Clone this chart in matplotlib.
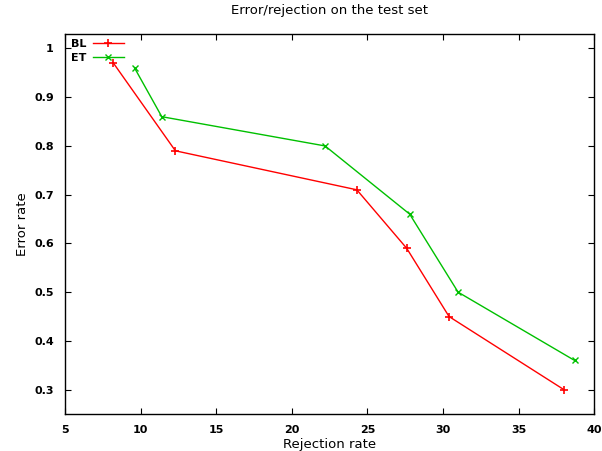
import matplotlib
matplotlib.use("Agg")
import matplotlib.pyplot as plt

# Daten
bl_x = [8.2, 12.3, 24.3, 27.6, 30.4, 38.0]
bl_y = [0.97, 0.79, 0.71, 0.59, 0.45, 0.30]
et_x = [9.6, 11.4, 22.2, 27.8, 31.0, 38.7]
et_y = [0.96, 0.86, 0.80, 0.66, 0.50, 0.36]

xticks = [5, 10, 15, 20, 25, 30, 35, 40]
yticks = [0.3, 0.4, 0.5, 0.6, 0.7, 0.8, 0.9, 1.0]
ytick_labels = ["0.3", "0.4", "0.5", "0.6", "0.7", "0.8", "0.9", "1"]

fig = plt.figure(figsize=(6.02, 4.51), dpi=100)
ax = fig.add_axes([0.108, 0.082, 0.879, 0.843])

ax.plot(bl_x, bl_y, color="#ff0000", lw=1, marker="+", ms=5.5, mew=1.2, label="BL")
ax.plot(et_x, et_y, color="#00c000", lw=1, marker="x", ms=5, mew=1, label="ET")

ax.set_xlim(5, 40)
ax.set_ylim(0.25, 1.03)
ax.set_xticks(xticks)
ax.set_yticks(yticks)
ax.set_yticklabels(ytick_labels)
ax.tick_params(direction="in", top=True, right=True, length=4, labelsize=8, pad=8)
for lab in ax.get_xticklabels() + ax.get_yticklabels():
    lab.set_fontweight("bold")
for s in ax.spines.values():
    s.set_linewidth(1)

ax.set_title("Error/rejection on the test set", fontsize=9.5, pad=14)
ax.set_xlabel("Rejection rate", fontsize=9.5, labelpad=2)
ax.set_ylabel("Error rate", fontsize=9.5, labelpad=4)

leg = ax.legend(loc="upper left", frameon=False, markerfirst=False, fontsize=8,
                handlelength=2.8, borderaxespad=0.1, labelspacing=0.35, handletextpad=0.6)
for t in leg.get_texts():
    t.set_fontweight("bold")

fig.savefig("out.png", dpi=100)
